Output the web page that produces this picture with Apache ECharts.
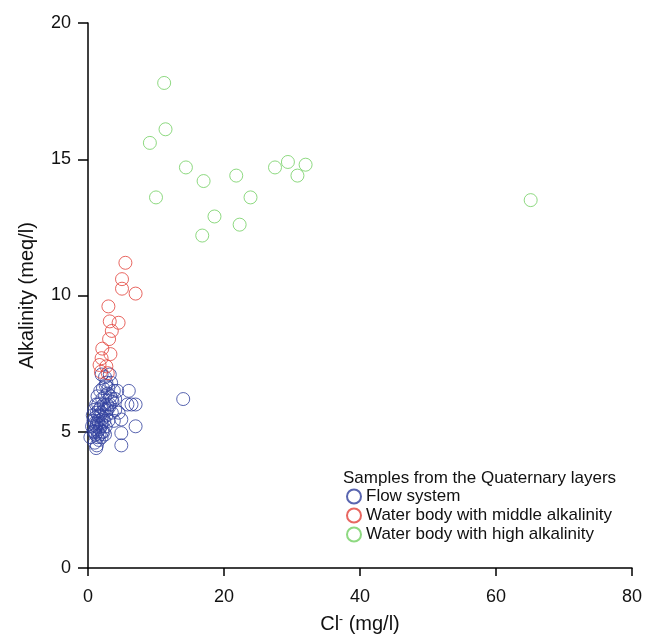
<!DOCTYPE html>
<html>
<head>
<meta charset="utf-8">
<script src="https://cdn.jsdelivr.net/npm/echarts@6/dist/echarts.min.js"></script>
<style>
  html, body { margin: 0; padding: 0; background: #fff; }
  #chart { width: 648px; height: 635px; }
</style>
</head>
<body>
<div id="chart"></div>
<script>
// Cl- (mg/l) vs alkalinity (meq/l) for Quaternary samples
const flowSystem = [
  [14.0, 6.2], [6.0, 6.5], [4.3, 6.5], [5.8, 6.0], [6.4, 6.0], [7.0, 6.0],
  [7.0, 5.2], [4.9, 5.45], [4.9, 4.95], [4.9, 4.5], [1.2, 4.4], [0.35, 4.8],
  [3.8, 5.4], [4.0, 5.8], [4.5, 5.7], [3.5, 6.2], [3.0, 6.6], [2.6, 6.7],
  [2.5, 7.0], [3.2, 7.1], [2.0, 7.1],
  [0.8, 5.0], [0.9, 5.3], [1.0, 5.5], [1.1, 4.9], [1.2, 5.2], [1.3, 5.7],
  [1.4, 5.0], [1.5, 5.4], [1.5, 6.0], [1.6, 4.7], [1.7, 5.1], [1.8, 5.6],
  [1.9, 5.9], [2.0, 5.3], [2.0, 4.8], [2.1, 6.2], [2.2, 5.5], [2.3, 5.0],
  [2.4, 5.8], [2.5, 6.3], [2.6, 5.2], [2.7, 5.6], [2.8, 6.0], [3.0, 5.4],
  [3.1, 5.9], [3.3, 6.3], [3.5, 5.7], [1.0, 4.6], [1.3, 4.5], [1.6, 5.8],
  [1.2, 6.0], [0.7, 5.6], [0.6, 5.2], [1.4, 6.3], [1.8, 6.5], [2.2, 6.6],
  [2.9, 6.4], [3.4, 6.8], [0.9, 5.8], [1.1, 5.1], [1.7, 4.9], [2.0, 5.7],
  [2.4, 5.4], [2.5, 4.9], [1.5, 5.6], [1.3, 5.3], [1.9, 5.2], [2.3, 6.0],
  [2.7, 6.8], [3.6, 6.1], [4.0, 6.2], [3.8, 6.5], [1.0, 5.0], [1.6, 5.3],
  [2.1, 5.0], [0.8, 5.4], [1.4, 4.8], [2.8, 5.8], [3.2, 6.0]
];
const middleAlkalinity = [
  [5.5, 11.2], [5.0, 10.6], [5.0, 10.25], [7.0, 10.07], [3.0, 9.6],
  [3.2, 9.05], [4.5, 9.0], [3.5, 8.7], [3.1, 8.4], [2.1, 8.05],
  [3.3, 7.85], [2.0, 7.7], [1.7, 7.45], [2.7, 7.4], [1.9, 7.2], [2.9, 7.15]
];
const highAlkalinity = [
  [11.2, 17.8], [11.4, 16.1], [9.1, 15.6], [14.4, 14.7], [17.0, 14.2],
  [21.8, 14.4], [27.5, 14.7], [29.4, 14.9], [32.0, 14.8], [30.8, 14.4],
  [10.0, 13.6], [23.9, 13.6], [18.6, 12.9], [22.3, 12.6], [16.8, 12.2],
  [65.1, 13.5]
];
const seriesNames = ['Flow system', 'Water body with middle alkalinity', 'Water body with high alkalinity'];
const seriesColors = ['#2f3f9c', '#e2413a', '#72cf62'];
const legendTitle = 'Samples from the Quaternary layers';

const font = 'Liberation Sans, Arial, sans-serif';

function scatter(name, data, color) {
  return {
    name: name,
    type: 'scatter',
    data: data,
    symbol: 'circle',
    symbolSize: 13,
    itemStyle: { color: 'rgba(0,0,0,0)', borderColor: color, borderWidth: 1 },
    emphasis: { disabled: true }
  };
}

const chart = echarts.init(document.getElementById('chart'), null, { renderer: 'canvas' });
chart.setOption({
  animation: false,
  backgroundColor: '#fff',
  title: {
    text: legendTitle,
    left: 338,
    top: 465,
    textStyle: { fontFamily: font, fontSize: 17, fontWeight: 'normal', color: '#111' }
  },
  legend: {
    orient: 'vertical',
    left: 346,
    top: 488,
    padding: 0,
    itemGap: 2,
    itemWidth: 14,
    itemHeight: 14,
    data: seriesNames,
    textStyle: { fontFamily: font, fontSize: 17, color: '#111' }
  },
  grid: {
    left: 88, width: 544, top: 23, height: 545,
    containLabel: false,
    outerBoundsMode: 'none'
  },
  xAxis: {
    type: 'value',
    min: 0, max: 80, interval: 20,
    name: '{m|Cl}{s|-}{m| (mg/l)}',
    nameLocation: 'middle',
    nameGap: 46,
    nameTextStyle: {
      rich: {
        m: { fontFamily: font, fontSize: 20, color: '#111' },
        s: { fontFamily: font, fontSize: 12, color: '#111', verticalAlign: 'top', padding: [0, 0, 8, 0] }
      }
    },
    splitLine: { show: false },
    axisLine: { show: true, lineStyle: { color: '#000', width: 1.5 } },
    axisTick: { show: true, inside: false, length: 8, lineStyle: { color: '#000', width: 1.5 } },
    axisLabel: { margin: 20, fontFamily: font, fontSize: 18, color: '#111' }
  },
  yAxis: {
    type: 'value',
    min: 0, max: 20, interval: 5,
    name: 'Alkalinity (meq/l)',
    nameLocation: 'middle',
    nameGap: 51,
    nameTextStyle: { fontFamily: font, fontSize: 20, color: '#111' },
    splitLine: { show: false },
    axisLine: { show: true, lineStyle: { color: '#000', width: 1.5 } },
    axisTick: { show: true, inside: false, length: 10, lineStyle: { color: '#000', width: 1.5 } },
    axisLabel: { margin: 17, fontFamily: font, fontSize: 18, color: '#111' }
  },
  series: [
    scatter(seriesNames[0], flowSystem, seriesColors[0]),
    scatter(seriesNames[1], middleAlkalinity, seriesColors[1]),
    scatter(seriesNames[2], highAlkalinity, seriesColors[2])
  ]
});
</script>
</body>
</html>
